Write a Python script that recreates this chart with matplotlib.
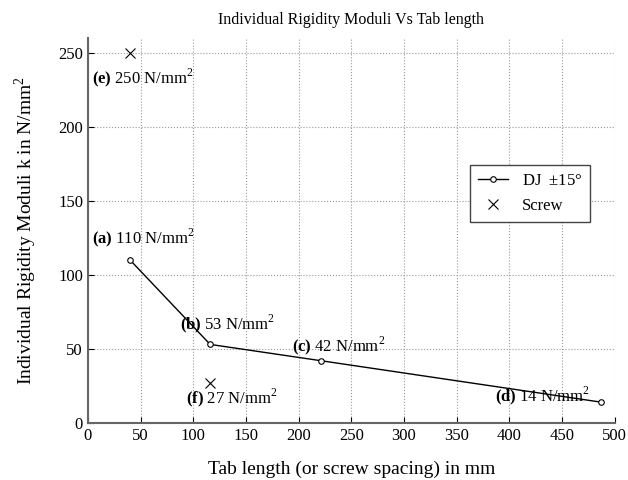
import matplotlib
matplotlib.use("Agg")
import matplotlib.pyplot as plt

# data
tab_length = [40, 116, 221, 487]
dj_moduli = [110, 53, 42, 14]
screw_spacing = [40, 116]
screw_moduli = [250, 27]

dj_labels = ["(a)", "(b)", "(c)", "(d)"]
screw_labels = ["(e)", "(f)"]

plt.rcParams['font.family'] = ['Liberation Serif']
plt.rcParams['mathtext.fontset'] = 'custom'
plt.rcParams['mathtext.rm'] = 'Liberation Serif'
plt.rcParams['mathtext.bf'] = 'Liberation Serif:bold'

fig = plt.figure(figsize=(6.28, 4.8), dpi=100)
ax = fig.add_axes([0.140, 0.119, 0.839, 0.802])

ax.plot(tab_length, dj_moduli, '-o', color='black', lw=1.0, ms=4,
        mfc='white', mec='black', mew=0.8, label=r'DJ  $\pm$15$\degree$')
ax.plot(screw_spacing, screw_moduli, 'x', color='black', ms=7, mew=0.8,
        label='Screw')

# label anchor positions (data units)
dj_text_pos = [(4, 125), (87, 67), (194, 52), (386, 18)]
screw_text_pos = [(4, 233), (93, 17)]
for lab, val, (tx, ty) in zip(dj_labels, dj_moduli, dj_text_pos):
    ax.text(tx, ty, r'$\mathbf{%s}$ %d N/mm$^2$' % (lab, val), fontsize=12,
            ha='left', va='center')
for lab, val, (tx, ty) in zip(screw_labels, screw_moduli, screw_text_pos):
    ax.text(tx, ty, r'$\mathbf{%s}$ %d N/mm$^2$' % (lab, val), fontsize=12,
            ha='left', va='center')

ax.set_xlim(0, 500)
ax.set_ylim(0, 260)
ax.set_xticks(range(0, 501, 50))
ax.set_yticks(range(0, 251, 50))
ax.grid(True, linestyle=':', color='#999999', lw=0.8)
ax.tick_params(direction='in', labelsize=12, length=4, color='black')
for side in ['top', 'right']:
    ax.spines[side].set_visible(False)
for side in ['left', 'bottom']:
    ax.spines[side].set_color('#666666')
    ax.spines[side].set_linewidth(1.5)

ax.set_xlabel('Tab length (or screw spacing) in mm', fontsize=14, labelpad=12)
ax.set_ylabel(r'Individual Rigidity Moduli k in N/mm$^2$', fontsize=14, labelpad=14)
ax.set_title('Individual Rigidity Moduli Vs Tab length', fontsize=11.5, pad=10)

leg = ax.legend(loc='upper left', bbox_to_anchor=(0.725, 0.67), fontsize=12,
                fancybox=False, framealpha=1, edgecolor='#444444',
                handlelength=1.8, borderpad=0.5, borderaxespad=0)
leg.get_frame().set_linewidth(1.0)

fig.savefig('out.png', dpi=100)
